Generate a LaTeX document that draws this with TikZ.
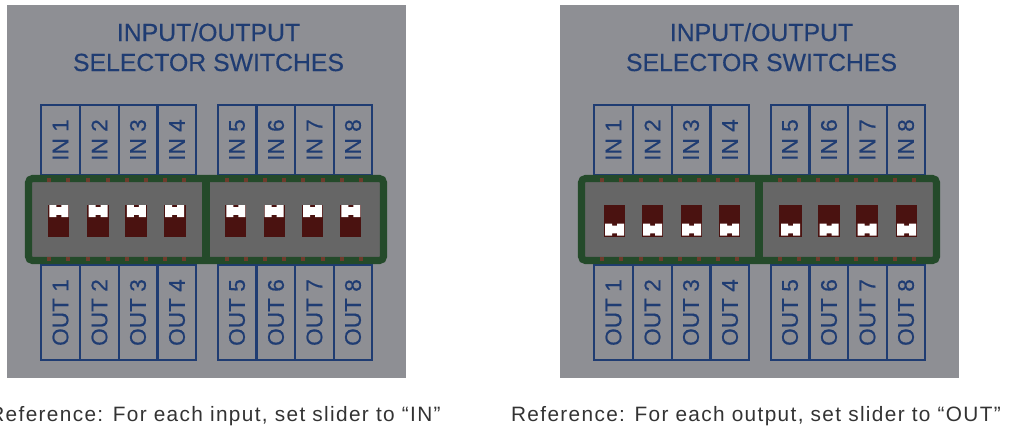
\documentclass[tikz,border=0pt]{standalone}
\usepackage{fontspec}
\setmainfont[FakeBold=0.4]{Liberation Sans}
\newfontfamily\captionfont[LetterSpace=6.5]{Liberation Sans}
\usetikzlibrary{positioning}
\definecolor{panelGrey}{HTML}{8E8F94}
\definecolor{labelBlue}{HTML}{1F3C72}
\definecolor{frameGreen}{HTML}{244A2A}
\definecolor{wellGrey}{HTML}{666666}
\definecolor{sliderRed}{HTML}{4A1210}
\definecolor{dotRed}{HTML}{6E3B2C}
\tikzstyle{panelNode} = [rectangle, fill=panelGrey, minimum width=299.25pt, minimum height=279.75pt, inner sep=0pt, outer sep=0pt]
\tikzstyle{titleNode} = [anchor=base, text=labelBlue, font=\fontsize{18.6}{18.6}\selectfont, inner sep=0pt]
\tikzstyle{portNode} = [rectangle, draw=labelBlue, line width=1.3pt, rotate=90, text=labelBlue, font=\fontsize{17}{17}\selectfont, minimum height=29pt, inner sep=0pt, outer sep=0pt]
\tikzstyle{inNode} = [portNode, minimum width=52.5pt]
\tikzstyle{outNode} = [portNode, minimum width=71pt]
\tikzstyle{frameNode} = [rectangle, rounded corners=3pt, draw=frameGreen, fill=wellGrey, line width=5.3pt, minimum width=266.25pt, minimum height=61.5pt, inner sep=0pt]
\tikzstyle{dotNode} = [rectangle, fill=dotRed, minimum size=3pt, inner sep=0pt]
\tikzstyle{sliderNode} = [rectangle, fill=sliderRed, minimum height=24pt, inner sep=0pt]
\tikzstyle{captionNode} = [anchor=base, text=black!80, font=\captionfont\fontsize{15.6}{15.6}\selectfont, inner sep=0pt]

% #1 name, #2 x offset, #3 top of the white tab, #4 slider x/width
\newcommand{\selectorPanel}[4]{
    \begin{scope}[xshift=#2*0.75pt]
    \node (#1panel) [panelNode] at (206.5,191.5) {};
    \node (#1titleA) [titleNode] at (208.5,41) {INPUT/OUTPUT};
    \node (#1titleB) [titleNode, below=22.5pt of #1titleA.base, anchor=base] {SELECTOR SWITCHES};
    \foreach \n/\cx in {1/60.5,2/99.5,3/138,4/177,5/237,6/276,7/314.5,8/353} {
        \node (#1in\n) [inNode] at (\cx,140) {IN \n};
        \node (#1out\n) [outNode] at (\cx,312.5) {OUT \n};
    }
    \node (#1frame) [frameNode] at (206,219.5) {};
    \draw [frameGreen, line width=5.3pt] (#1frame.north) -- (#1frame.south);
    \foreach \dx in {49,68,88,107.5,127,146,165,184,227,246,265,284,303,322.5,342,361} {
        \node (#1dotA\dx) [dotNode] at (\dx,180) {};
        \node (#1dotB\dx) [dotNode] at (\dx,259) {};
    }
    \foreach \n/\cx/\w in {#4} {
        \node (#1slider\n) [sliderNode, minimum width=\w*0.75pt] at (\cx,220.5) {};
        \fill [white] (\cx-9.5,#3) -- ++(7,0) -- ++(0,2.2) -- ++(5,0) -- ++(0,-2.2) -- ++(7,0)
            -- ++(0,12) -- ++(-7,0) -- ++(0,-2.2) -- ++(-5,0) -- ++(0,2.2) -- ++(-7,0) -- cycle;
    }
    \end{scope}
}

\begin{document}
\begin{tikzpicture}[x=0.75pt, y=-0.75pt]
    \useasboundingbox (0,0) rectangle (1011,430);
    \selectorPanel{l}{0}{205}{1/58.8/21,2/98/22,3/136.3/22,4/174.7/22,5/235.8/21,6/274.2/21,7/312.5/21,8/350.8/21}
    \selectorPanel{r}{553}{223.5}{1/61.5/21,2/99.5/21,3/138.5/21,4/176.5/21,5/237.5/23,6/276/22,7/314/22,8/353.5/21}

    \node (capL) [captionNode] at (215,421) {Reference: For each input, set slider to “IN”};
    \node (capR) [captionNode] at (756,421) {Reference: For each output, set slider to “OUT”};
\end{tikzpicture}
\end{document}
